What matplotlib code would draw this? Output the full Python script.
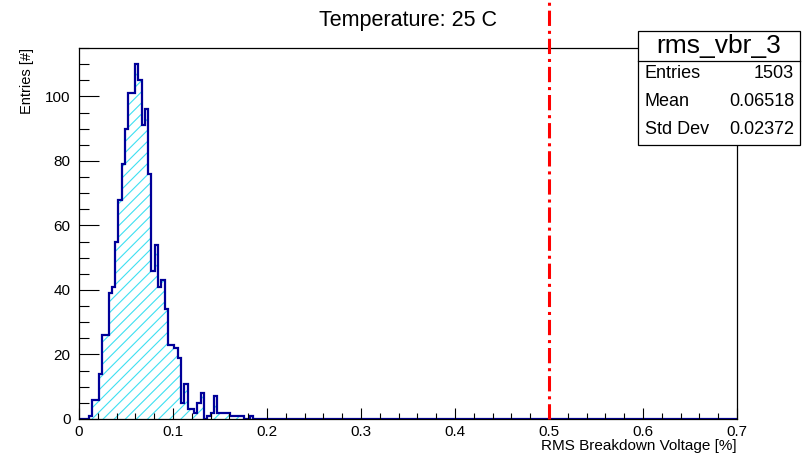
import matplotlib
matplotlib.use("Agg")
import matplotlib.pyplot as plt
import matplotlib.transforms as mtransforms
from matplotlib.patches import Rectangle
from matplotlib.lines import Line2D
from matplotlib.ticker import MultipleLocator
import numpy as np

plt.rcParams['font.family'] = ['Liberation Sans', 'DejaVu Sans']
plt.rcParams['hatch.linewidth'] = 0.8

# ---- data -------------------------------------------------------------
x_min, x_max, n_bins = 0.0, 0.7, 200
# counts of the first bins (remaining bins are empty)
counts_head = [0, 0, 0, 1, 6, 6, 14, 26, 26, 39,
               41, 55, 68, 79, 90, 101, 101, 110, 105, 91,
               96, 76, 46, 54, 41, 43, 34, 23, 23, 22,
               19, 5, 11, 3, 3, 2, 5, 8, 0, 1,
               2, 7, 2, 2, 2, 2, 1, 1, 1, 1,
               0, 0, 1]
threshold_x = 0.5
title = "Temperature: 25 C"
x_title = "RMS Breakdown Voltage [%]"
y_title = "Entries [#]"
stats_name = "rms_vbr_3"
stats_rows = [("Entries", "1503"), ("Mean", "0.06518"), ("Std Dev", "0.02372")]
y_max = 115.0

counts = np.zeros(n_bins)
counts[:len(counts_head)] = counts_head
edges = np.linspace(x_min, x_max, n_bins + 1)

# ---- figure -----------------------------------------------------------
W, H = 809, 454
fig = plt.figure(figsize=(W / 100, H / 100), dpi=100)
L, R, T, B = 79, 737, 48, 419
ax = fig.add_axes([L / W, 1 - B / H, (R - L) / W, (B - T) / H])

ax.stairs(counts, edges, fill=True, hatch='///', facecolor='none',
          edgecolor='#3ee0f2', linewidth=0)
ax.stairs(counts, edges, baseline=0, fill=False, color='#000099', linewidth=1.6)

ax.set_xlim(x_min, x_max)
ax.set_ylim(0, y_max)

ax.xaxis.set_major_locator(MultipleLocator(0.1))
ax.xaxis.set_minor_locator(MultipleLocator(0.02))
ax.yaxis.set_major_locator(MultipleLocator(20))
ax.yaxis.set_minor_locator(MultipleLocator(5))
ax.xaxis.set_major_formatter(plt.FuncFormatter(lambda v, p: ("%g" % round(v, 3))))

ax.tick_params(axis='both', which='both', direction='in', top=False, right=False,
               labelsize=11, width=0.8)
ax.tick_params(axis='x', which='major', length=8, pad=4)
ax.tick_params(axis='x', which='minor', length=4)
ax.tick_params(axis='y', which='major', length=14.5, pad=6)
ax.tick_params(axis='y', which='minor', length=7.2)
for s in ax.spines.values():
    s.set_linewidth(0.9)

ax.set_xlabel(x_title, fontsize=11, loc='right')
ax.xaxis.set_label_coords(1.0, -0.053)
ax.set_ylabel(y_title, fontsize=10.5, loc='top')
ax.yaxis.set_label_coords(-0.068, 1.0)

ax.set_title(title, fontsize=15.5, y=1.06, pad=0)

# threshold line (extends above the frame)
trans = mtransforms.blended_transform_factory(ax.transData, ax.transAxes)
ax.plot([threshold_x, threshold_x], [0, (B - 0) / (B - T)], transform=trans,
        color='red', linewidth=2.2, dashes=(5, 1.6, 1.0, 1.6), clip_on=False, zorder=5)

# stats box
bx0, bx1, by0, by1, bsep = 638, 800, 31, 145, 61
fig.patches.append(Rectangle((bx0 / W, 1 - by1 / H), (bx1 - bx0) / W, (by1 - by0) / H,
                             transform=fig.transFigure, facecolor='white',
                             edgecolor='black', linewidth=0.9, zorder=10))
fig.lines.append(Line2D([bx0 / W, bx1 / W], [1 - bsep / H, 1 - bsep / H],
                        transform=fig.transFigure, color='black', linewidth=0.9, zorder=11))
fig.text((bx0 + bx1) / 2 / W, 1 - 46 / H, stats_name, ha='center', va='center',
         fontsize=19, zorder=12)
row_y = [74, 102, 130]
for (k, v), yy in zip(stats_rows, row_y):
    fig.text(645 / W, 1 - yy / H, k, ha='left', va='center', fontsize=13, zorder=12)
    fig.text(794 / W, 1 - yy / H, v, ha='right', va='center', fontsize=13, zorder=12)

fig.savefig("out.png", dpi=100)
